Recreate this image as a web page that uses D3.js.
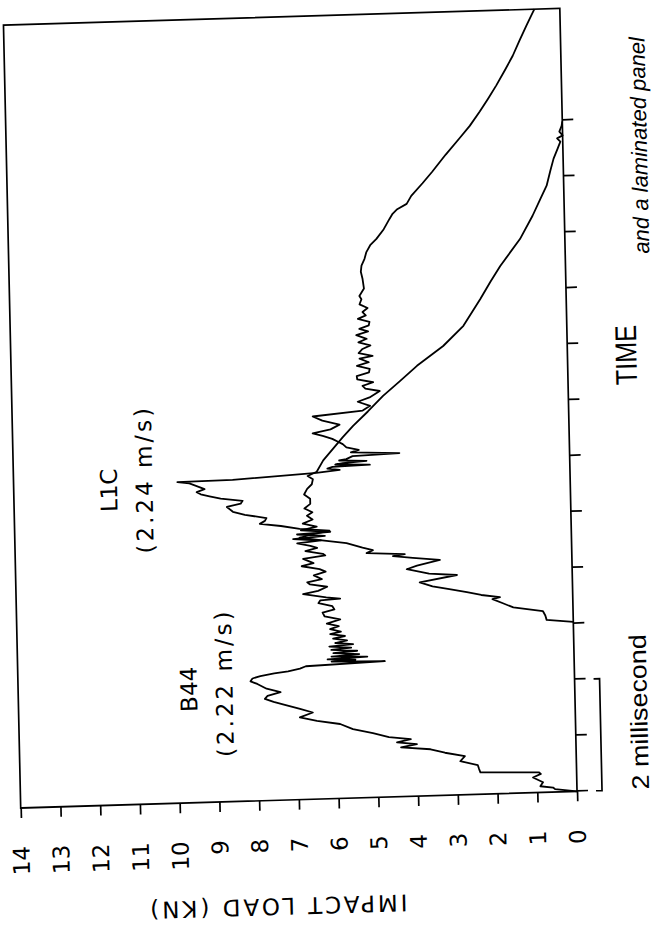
<!DOCTYPE html>
<html>
<head>
<meta charset="utf-8">
<script src="https://cdn.jsdelivr.net/npm/d3@7/dist/d3.min.js"></script>
<style>
  body { margin: 0; background: #fff; }
  svg { display: block; }
  .frame, .axis line, .bracket { stroke: #000; stroke-width: 1.7; fill: none; }
  .trace { fill: none; stroke: #000; stroke-width: 1.8; stroke-linejoin: round; }
  text { fill: #000; }
</style>
</head>
<body>
<svg id="chart" width="657" height="930"></svg>
<script>
// load-time traces, [time (ms), load (kN)]
var b44 = [[0,0],[0.05,0.55],[0.08,0.6],[0.11,0.92],[0.18,0.85],[0.27,1.1],[0.33,0.9],[0.36,0.95],[0.39,2.42],[0.45,2.45],[0.52,2.48],[0.6,2.92],[0.69,2.8],[0.76,3.3],[0.83,3.66],[0.88,4.4],[0.93,4.0],[0.97,4.5],[1.02,4.15],[1.07,4.7],[1.15,5.1],[1.23,5.6],[1.33,5.92],[1.4,6.5],[1.47,6.93],[1.55,6.6],[1.62,6.92],[1.7,7.3],[1.76,7.58],[1.82,7.8],[1.87,7.73],[1.93,7.4],[2.0,7.75],[2.09,7.98],[2.14,8.15],[2.19,8.1],[2.23,7.9],[2.27,7.55],[2.3,7.2],[2.34,6.9],[2.38,6.75],[2.43,4.76],[2.45,6.1],[2.47,5.5],[2.49,6.2],[2.52,5.2],[2.54,6.1],[2.57,5.4],[2.6,6.05],[2.63,5.45],[2.66,6.1],[2.69,5.6],[2.72,6.15],[2.75,5.55],[2.78,6.0],[2.82,5.7],[2.86,6.05],[2.9,5.75],[2.94,6.12],[2.98,5.85],[3.03,6.12],[3.08,5.9],[3.13,6.2],[3.2,5.86],[3.26,6.25],[3.33,6.3],[3.38,6.0],[3.44,6.05],[3.5,6.4],[3.55,6.35],[3.57,5.85],[3.6,6.2],[3.67,6.78],[3.72,6.4],[3.79,6.17],[3.84,6.6],[3.88,6.67],[3.93,6.3],[4.0,6.5],[4.06,6.2],[4.11,6.35],[4.17,6.8],[4.22,6.5],[4.3,6.76],[4.35,6.2],[4.38,6.26],[4.44,6.7],[4.49,6.4],[4.53,6.57],[4.58,6.9],[4.62,6.3],[4.66,7.0],[4.7,6.2],[4.74,6.9],[4.77,6.06],[4.81,6.8],[4.87,6.4],[4.93,6.75],[5.0,6.5],[5.07,6.64],[5.13,6.5],[5.2,6.7],[5.28,6.55],[5.37,6.55],[5.45,6.7],[5.55,6.62],[5.63,6.5],[5.72,6.47],[5.78,6.6],[5.85,6.37],[6.05,6.2],[6.25,5.95],[6.45,5.7],[6.65,5.43],[6.9,5.05],[7.17,4.66],[7.43,4.22],[7.69,3.79],[8.03,3.12],[8.38,2.6],[8.85,2.16],[9.15,1.9],[9.43,1.64],[9.9,1.13],[10.31,0.8],[10.6,0.6],[10.84,0.43],[11.1,0.33],[11.32,0.24],[11.5,0.13],[11.62,0.06],[11.68,0.14],[11.73,0.0],[11.8,0.08],[11.9,0.02],[11.98,0]];

var l1c = [[3.03,0],[3.08,0.67],[3.16,0.7],[3.24,0.76],[3.32,1.5],[3.4,1.76],[3.48,2.02],[3.51,1.83],[3.56,2.3],[3.62,2.66],[3.68,3.1],[3.74,3.52],[3.82,3.84],[3.93,2.9],[3.97,3.6],[4.06,4.16],[4.12,3.9],[4.21,3.32],[4.26,4.0],[4.3,4.5],[4.33,4.2],[4.37,5.16],[4.42,5.0],[4.47,5.26],[4.56,5.66],[4.61,6.16],[4.68,6.84],[4.72,6.6],[4.79,6.08],[4.84,6.83],[4.9,7.3],[4.95,7.83],[5.0,7.7],[5.05,7.66],[5.12,8.2],[5.18,8.5],[5.27,8.65],[5.32,8.3],[5.37,8.25],[5.42,8.8],[5.47,9.08],[5.51,9.3],[5.55,9.4],[5.6,9.2],[5.64,9.33],[5.71,9.58],[5.74,9.88],[5.75,8.49],[5.83,6.38],[5.87,5.79],[5.9,6.1],[5.93,5.97],[5.95,5.03],[5.97,5.9],[5.99,5.71],[6.02,5.11],[6.04,5.8],[6.06,5.62],[6.11,5.46],[6.14,4.28],[6.18,5.5],[6.22,5.3],[6.27,5.61],[6.33,5.7],[6.38,5.83],[6.43,5.96],[6.49,6.2],[6.54,6.45],[6.6,6.0],[6.68,5.77],[6.76,6.2],[6.84,6.44],[6.92,5.18],[7.0,4.99],[7.08,5.3],[7.15,5.0],[7.26,4.74],[7.31,5.1],[7.36,5.17],[7.42,4.9],[7.48,5.3],[7.54,5.31],[7.6,5.0],[7.66,4.98],[7.72,5.3],[7.78,5.0],[7.85,5.23],[7.89,4.9],[7.95,5.25],[8.02,5.15],[8.08,4.95],[8.14,5.25],[8.2,5.04],[8.27,5.3],[8.33,5.0],[8.38,5.22],[8.44,4.98],[8.5,4.96],[8.56,5.25],[8.62,5.05],[8.68,5.13],[8.75,5.0],[8.82,5.2],[8.91,5.15],[8.97,5.2],[9.1,5.08],[9.27,5.11],[9.4,5.15],[9.51,5.13],[9.63,5.05],[9.75,5.0],[9.87,4.9],[9.98,4.74],[10.15,4.55],[10.33,4.4],[10.42,4.32],[10.5,4.2],[10.59,3.96],[10.66,3.9],[10.73,3.84],[10.95,3.55],[11.15,3.3],[11.45,2.95],[11.73,2.6],[11.95,2.33],[12.2,2.07],[12.43,1.85],[12.66,1.64],[12.92,1.42],[13.18,1.21],[13.45,1.03],[13.71,0.85],[13.88,0.73],[14.0,0.64]];

var loadTicks = [0,1,2,3,4,5,6,7,8,9,10,11,12,13,14];
var timeTicks = [0,1,2,3,4,5,6,7,8,9,10,11,12];

// trace labels: [text, time, load]
var labels = [
  ['B44', 2.03, 9.5],
  ['(2.22 m/s)', 2.13, 8.61],
  ['L1C', 5.63, 11.4],
  ['(2.24 m/s)', 5.81, 10.51]
];

var W = 783, H = 556.5;

var svg = d3.select('#chart');

// the figure is printed sideways (and the scan is a little skewed)
var g = svg.append('g')
  .attr('transform', 'matrix(-0.022,-0.9998,0.9997,-0.030,20.7,808)');

var x = d3.scaleLinear().domain([0, 14]).range([0, W]);
var y = d3.scaleLinear().domain([0, 14]).range([H, 0]);

g.append('rect')
  .attr('class', 'frame')
  .attr('width', W)
  .attr('height', H);

var yAxis = g.append('g')
  .attr('class', 'axis')
  .call(d3.axisLeft(y).tickValues(loadTicks).tickSize(10).tickSizeOuter(0).tickPadding(28));
yAxis.select('.domain').remove();
yAxis.selectAll('text')
  .style('font-family', '"DejaVu Sans", sans-serif')
  .style('font-size', '23px');

var xAxis = g.append('g')
  .attr('class', 'axis')
  .attr('transform', 'translate(0,' + H + ')')
  .call(d3.axisBottom(x).tickValues(timeTicks).tickSize(11).tickSizeOuter(0).tickFormat(''));
xAxis.select('.domain').remove();

var line = d3.line()
  .x(function(d){ return x(d[0]); })
  .y(function(d){ return y(d[1]); });

g.selectAll('.trace')
  .data([b44, l1c])
  .enter().append('path')
  .attr('class', 'trace')
  .attr('d', line);

g.selectAll('.tlabel')
  .data(labels)
  .enter().append('text')
  .attr('class', 'tlabel')
  .attr('x', function(d){ return x(d[1]); })
  .attr('y', function(d){ return y(d[2]); })
  .attr('text-anchor', 'middle')
  .style('font-family', '"DejaVu Sans", sans-serif')
  .style('font-size', '23px')
  .style('letter-spacing', function(d){ return d[0].length > 4 ? '3px' : '0px'; })
  .text(function(d){ return d[0]; });

// axis titles
g.append('text')
  .attr('transform', 'translate(-98,' + y(7.6) + ') rotate(-90)')
  .attr('text-anchor', 'middle')
  .style('font-family', '"DejaVu Sans", sans-serif')
  .style('font-size', '23px')
  .style('letter-spacing', '3px')
  .text('IMPACT LOAD (KN)');

g.append('text')
  .attr('x', x(7.77))
  .attr('y', H + 69)
  .attr('text-anchor', 'middle')
  .attr('textLength', 60)
  .attr('lengthAdjust', 'spacingAndGlyphs')
  .style('font-family', '"Liberation Sans", Arial, sans-serif')
  .style('font-size', '30px')
  .text('TIME');

// 2 ms scale bar
g.append('path')
  .attr('class', 'bracket')
  .attr('d', 'M' + x(0) + ',' + (H + 19) + 'V' + (H + 25) + 'H' + x(2) + 'V' + (H + 19));

g.append('text')
  .attr('x', x(0))
  .attr('y', H + 72)
  .attr('textLength', 155)
  .attr('lengthAdjust', 'spacingAndGlyphs')
  .style('font-family', '"Liberation Sans", Arial, sans-serif')
  .style('font-size', '24px')
  .text('2 millisecond');

// caption, running along the page edge
g.append('text')
  .attr('x', 752)
  .attr('y', H + 84)
  .attr('text-anchor', 'end')
  .style('font-family', '"Liberation Sans", Arial, sans-serif')
  .style('font-size', '22px')
  .style('font-style', 'italic')
  .text('and a laminated panel');
</script>
</body>
</html>
